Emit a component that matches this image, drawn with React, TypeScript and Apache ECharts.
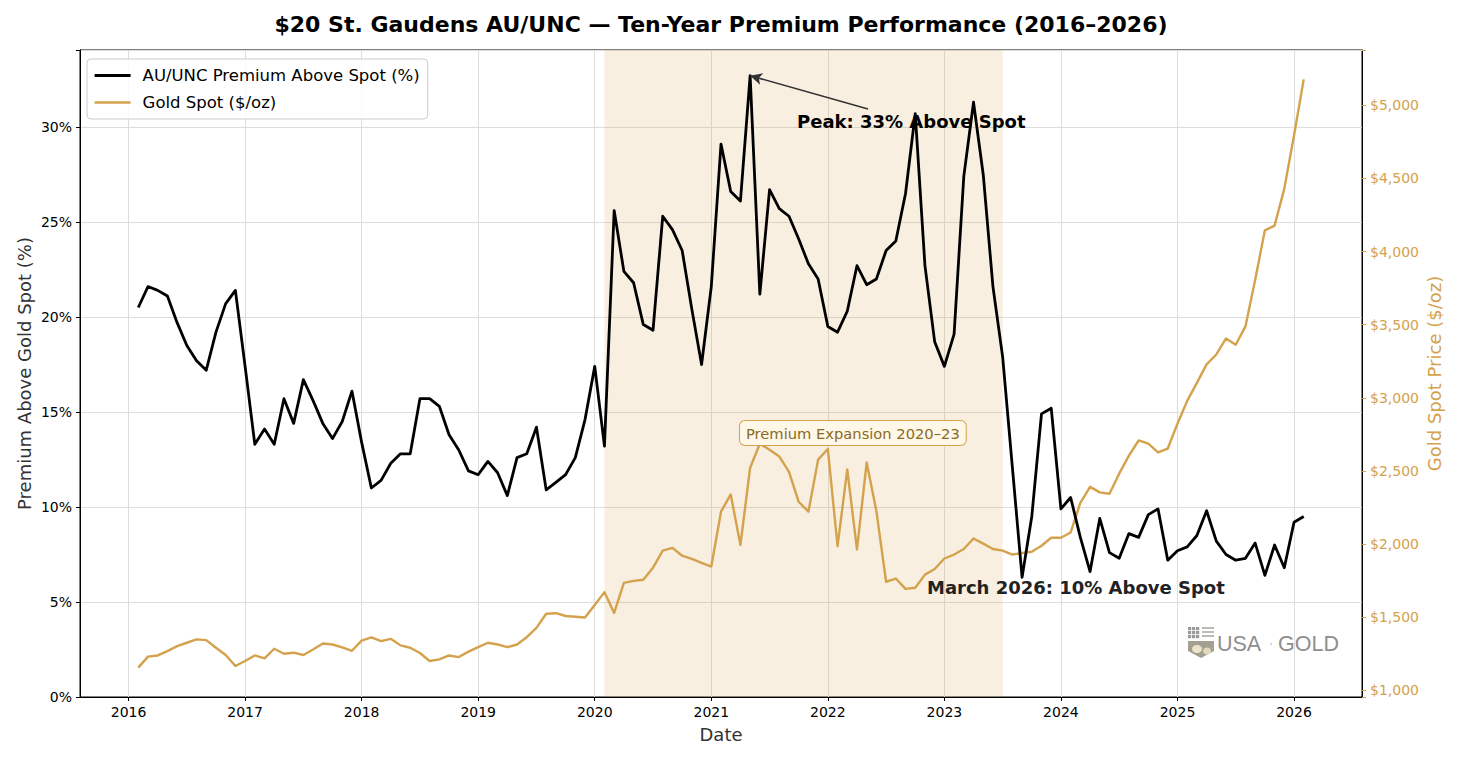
import React, { useEffect, useRef } from 'react';
import * as echarts from 'echarts';

// Monthly observations, first one in February 2016
const FIRST_MONTH = '2016-02';
// Visible window of the date axis
const AXIS_START = '2015-08';
const AXIS_END = '2026-08';
// Shaded "premium expansion" period
const BAND_START = '2020-02';
const BAND_END = '2023-07';

// AU/UNC premium above gold spot, percent
const premiumPct = [
  20.5, 21.6, 21.4, 21.1, 19.7, 18.5, 17.7, 17.2, 19.2, 20.7, 21.4,
  17.4, 13.3, 14.1, 13.3, 15.7, 14.4, 16.7, 15.6, 14.4, 13.6, 14.5, 16.1,
  13.4, 11.0, 11.4, 12.3, 12.8, 12.8, 15.7, 15.7, 15.3, 13.8, 13.0, 11.9,
  11.7, 12.4, 11.8, 10.6, 12.6, 12.8, 14.2, 10.9, 11.3, 11.7, 12.6, 14.6,
  17.4, 13.2, 25.6, 22.4, 21.8, 19.6, 19.3, 25.3, 24.6, 23.5, 20.4, 17.5,
  21.6, 29.1, 26.6, 26.1, 32.7, 21.2, 26.7, 25.7, 25.3, 24.1, 22.8, 22.0,
  19.5, 19.2, 20.3, 22.7, 21.7, 22.0, 23.5, 24.0, 26.5, 30.7, 22.7, 18.7,
  17.4, 19.1, 27.4, 31.3, 27.5, 21.6, 17.9, 12.1, 6.3, 9.5, 14.9, 15.2,
  9.9, 10.5, 8.4, 6.6, 9.4, 7.6, 7.3, 8.6, 8.4, 9.6, 9.9, 7.2,
  7.7, 7.9, 8.5, 9.8, 8.2, 7.5, 7.2, 7.3, 8.1, 6.4, 8.0, 6.8,
  9.2, 9.5,
];

// Gold spot price, USD per troy ounce
const goldSpot = [
  1155, 1230, 1238, 1268, 1302, 1325, 1348, 1343, 1291, 1241, 1166,
  1200, 1238, 1218, 1284, 1250, 1257, 1241, 1279, 1320, 1313, 1293, 1270,
  1339, 1361, 1336, 1352, 1307, 1291, 1255, 1200, 1211, 1238, 1227, 1264,
  1295, 1325, 1313, 1295, 1313, 1363, 1427, 1523, 1527, 1508, 1503, 1498,
  1583, 1671, 1529, 1734, 1748, 1756, 1838, 1955, 1974, 1920, 1898, 1871,
  1846, 2221, 2339, 1994, 2522, 2686, 2645, 2599, 2494, 2289, 2221, 2577,
  2650, 1985, 2510, 1963, 2557, 2225, 1742, 1764, 1693, 1701, 1791, 1829,
  1901, 1928, 1966, 2038, 2003, 1966, 1955, 1928, 1939, 1947, 1988, 2043,
  2043, 2079, 2281, 2391, 2353, 2344, 2481, 2604, 2708, 2686, 2626, 2653,
  2823, 2979, 3102, 3228, 3296, 3406, 3363, 3488, 3807, 4145, 4177, 4430,
  4793, 5177,
];

const SERIES_NAMES = ['AU/UNC Premium Above Spot (%)', 'Gold Spot ($/oz)'];

const FONT = '"DejaVu Sans", sans-serif';
const GOLD = '#D4A24C';
const GRID = '#dddddd';

function addMonths(ym: string, n: number): string {
  const [y, m] = ym.split('-').map(Number);
  const t = y * 12 + (m - 1) + n;
  const yy = Math.floor(t / 12);
  const mm = (t % 12) + 1;
  return `${yy}-${String(mm).padStart(2, '0')}`;
}

function monthRange(start: string, end: string): string[] {
  const out: string[] = [];
  let cur = start;
  while (cur <= end) {
    out.push(cur);
    cur = addMonths(cur, 1);
  }
  return out;
}

const withCommas = (v: number) => String(v).replace(/\B(?=(\d{3})+(?!\d))/g, ',');

export default function App() {
  const ref = useRef<HTMLDivElement>(null);

  useEffect(() => {
    if (!ref.current) return;
    const chart = echarts.init(ref.current, undefined, { renderer: 'svg' });

    const categories = monthRange(AXIS_START, AXIS_END);
    const months = premiumPct.map((_, i) => addMonths(FIRST_MONTH, i));
    const isJanuary = (_i: number, v: string) => v.endsWith('-01');

    let peakIdx = 0;
    premiumPct.forEach((v, i) => {
      if (v > premiumPct[peakIdx]) peakIdx = i;
    });
    const peakVal = premiumPct[peakIdx];
    const lastVal = premiumPct[premiumPct.length - 1];

    chart.setOption({
      animation: false,
      textStyle: { fontFamily: FONT },
      grid: {
        left: 80,
        right: 98,
        top: 50,
        bottom: 63,
        show: true,
        borderColor: '#000',
        borderWidth: 1,
        backgroundColor: 'transparent',
      },
      legend: {
        orient: 'vertical',
        left: 87,
        top: 59,
        itemWidth: 36,
        itemHeight: 14,
        itemGap: 10,
        padding: [8, 8, 8, 6],
        backgroundColor: 'rgba(255,255,255,0.85)',
        borderColor: '#cccccc',
        borderWidth: 1,
        borderRadius: 4,
        itemStyle: { opacity: 0 },
        textStyle: { fontSize: 16.5, color: '#000', fontFamily: FONT, padding: [0, 0, 0, 7] },
        data: [
          { name: SERIES_NAMES[0], lineStyle: { width: 3.2, color: '#000' } },
          { name: SERIES_NAMES[1], lineStyle: { width: 2.6, color: GOLD } },
        ],
      },
      xAxis: {
        type: 'category',
        data: categories,
        boundaryGap: false,
        name: 'Date',
        nameLocation: 'middle',
        nameGap: 28,
        nameTextStyle: { fontSize: 18, color: '#333', fontFamily: FONT },
        axisLine: { show: true, lineStyle: { color: '#000', width: 1 } },
        axisTick: { show: true, interval: isJanuary, length: 4, lineStyle: { color: '#000' } },
        axisLabel: {
          interval: isJanuary,
          formatter: (v: string) => v.slice(0, 4),
          color: '#000',
          fontSize: 14,
          margin: 8,
        },
        splitLine: { show: true, interval: isJanuary, lineStyle: { color: GRID, width: 1 } },
      },
      yAxis: [
        {
          type: 'value',
          position: 'left',
          min: 0,
          max: 34.05,
          interval: 5,
          name: 'Premium Above Gold Spot (%)',
          nameLocation: 'middle',
          nameRotate: 90,
          nameGap: 47,
          nameMoveOverlap: false,
          nameTextStyle: { fontSize: 18, color: '#333', fontFamily: FONT },
          axisLine: { show: true, lineStyle: { color: '#000' } },
          axisTick: { show: true, length: 4, lineStyle: { color: '#000' } },
          axisLabel: {
            formatter: (v: number) => (Math.abs(v % 5) < 1e-9 ? `${v}%` : ''),
            color: '#000',
            fontSize: 14,
            margin: 8,
          },
          splitLine: { show: true, lineStyle: { color: GRID, width: 1 } },
        },
        {
          type: 'value',
          position: 'right',
          min: 954,
          max: 5378,
          minInterval: 500,
          maxInterval: 500,
          name: 'Gold Spot Price ($/oz)',
          nameLocation: 'middle',
          nameRotate: 90,
          nameGap: 63,
          nameMoveOverlap: false,
          nameTextStyle: { fontSize: 18, color: GOLD, fontFamily: FONT },
          axisLine: { show: true, lineStyle: { color: '#000' } },
          axisTick: { show: true, length: 4, lineStyle: { color: GOLD } },
          axisLabel: {
            formatter: (v: number) => (v % 500 === 0 ? `$${withCommas(v)}` : ''),
            color: GOLD,
            fontSize: 14,
            margin: 8,
          },
          splitLine: { show: false },
        },
      ],
      series: [
        {
          name: SERIES_NAMES[1],
          type: 'line',
          yAxisIndex: 1,
          z: 2,
          symbol: 'none',
          lineStyle: { color: GOLD, width: 2.4, join: 'round' },
          itemStyle: { color: GOLD },
          data: months.map((m, i) => [m, goldSpot[i]]),
          markArea: {
            silent: true,
            itemStyle: { color: 'rgba(212,160,74,0.17)' },
            data: [[{ xAxis: BAND_START }, { xAxis: BAND_END }]],
          },
        },
        {
          name: SERIES_NAMES[0],
          type: 'line',
          yAxisIndex: 0,
          z: 3,
          symbol: 'none',
          lineStyle: { color: '#000', width: 2.8, join: 'round' },
          itemStyle: { color: '#000' },
          data: months.map((m, i) => [m, premiumPct[i]]),
          markLine: {
            silent: true,
            symbol: ['none', 'arrow'],
            symbolSize: [9, 12],
            lineStyle: { color: '#333', width: 1.6, type: 'solid' },
            label: { show: false },
            data: [[{ x: 868, y: 109 }, { coord: [months[peakIdx], peakVal] }]],
          },
        },
      ],
      graphic: [
        {
          type: 'text',
          x: 721,
          y: 24,
          style: {
            text: '$20 St. Gaudens AU/UNC \u2014 Ten-Year Premium Performance (2016\u20132026)',
            font: `bold 22px ${FONT}`,
            fill: '#000',
            align: 'center',
            verticalAlign: 'middle',
          },
        },
        {
          type: 'text',
          x: 797,
          y: 121,
          z: 10,
          style: {
            text: `Peak: ${Math.round(peakVal)}% Above Spot`,
            font: `bold 18px ${FONT}`,
            fill: '#000',
            align: 'left',
            verticalAlign: 'middle',
          },
        },
        {
          type: 'text',
          x: 927,
          y: 587,
          z: 10,
          style: {
            text: `March 2026: ${Math.round(lastVal)}% Above Spot`,
            font: `bold 18px ${FONT}`,
            fill: '#222',
            align: 'left',
            verticalAlign: 'middle',
          },
        },
        {
          type: 'text',
          x: 740,
          y: 433,
          z: 10,
          style: {
            text: 'Premium Expansion 2020\u201323',
            font: `14.7px ${FONT}`,
            fill: '#8B6A1E',
            align: 'left',
            verticalAlign: 'middle',
            padding: [5, 6, 4, 6],
            backgroundColor: '#FFF8E8',
            borderColor: GOLD,
            borderWidth: 1,
            borderRadius: 5,
          },
        },
        {
          type: 'group',
          x: 1188,
          y: 627,
          z: 10,
          children: [
            ...[0, 1, 2].flatMap((r) =>
              [0, 1, 2].map((c) => ({
                type: 'rect',
                shape: { x: c * 4, y: r * 4, width: 3.2, height: 3.2 },
                style: { fill: '#9a9a9a' },
              }))
            ),
            ...[0, 1, 2].map((r) => ({
              type: 'rect',
              shape: { x: 14, y: r * 4, width: 12, height: 2 },
              style: { fill: '#bdbdb4' },
            })),
            {
              type: 'polygon',
              shape: { points: [[0, 14], [26, 14], [26, 24], [13, 31], [0, 24]] },
              style: { fill: '#a3a092' },
            },
            {
              type: 'ellipse',
              shape: { cx: 9, cy: 22, rx: 5, ry: 4 },
              style: { fill: '#ebe3cb' },
            },
            {
              type: 'ellipse',
              shape: { cx: 19, cy: 24, rx: 4, ry: 3.5 },
              style: { fill: '#e2d8bc' },
            },
            {
              type: 'text',
              x: 29,
              y: 17,
              style: {
                text: 'USA',
                font: '21.5px "Liberation Sans", sans-serif',
                fill: '#8e8e8e',
                verticalAlign: 'middle',
              },
            },
            {
              type: 'circle',
              shape: { cx: 83, cy: 17, r: 1 },
              style: { fill: '#cfcfcf' },
            },
            {
              type: 'text',
              x: 90,
              y: 17,
              style: {
                text: 'GOLD',
                font: '21.5px "Liberation Sans", sans-serif',
                fill: '#8e8e8e',
                verticalAlign: 'middle',
              },
            },
          ],
        },
      ],
    });

    return () => chart.dispose();
  }, []);

  return (
    <div
      ref={ref}
      style={{ position: 'fixed', left: 0, top: 0, width: 1460, height: 760, background: '#fff' }}
    />
  );
}
